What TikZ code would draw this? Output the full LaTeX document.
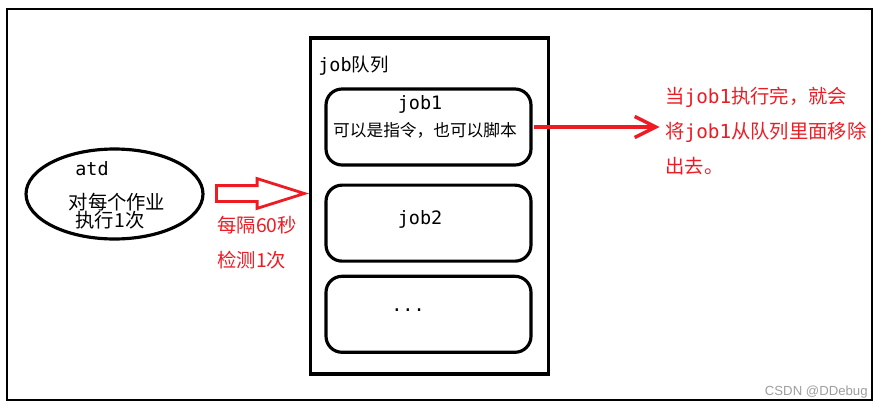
\documentclass[tikz,border=0pt]{standalone}
\usepackage{fontspec}
\setmainfont{Noto Sans CJK SC}
\newfontfamily\jbfont{DejaVu Sans Mono}
\newfontfamily\wmfont{Liberation Sans}
\usepackage{tikz}
\usetikzlibrary{shapes.geometric, shapes.arrows, arrows.meta, positioning}
\definecolor{paintred}{RGB}{237,28,36}
\newcommand{\jb}[1]{{\jbfont #1}}
\tikzstyle{outerframe} = [draw=black, line width=1.5pt]
\tikzstyle{queue} = [rectangle, draw=black, line width=1.8pt, minimum width=4.76cm, minimum height=6.72cm, inner sep=0pt]
\tikzstyle{jobbox} = [rectangle, rounded corners=0.32cm, draw=black, line width=1.8pt, minimum width=4.1cm, minimum height=1.52cm, inner sep=0pt]
\tikzstyle{daemon} = [ellipse, draw=black, line width=1.8pt, minimum width=3.54cm, minimum height=1.8cm, inner sep=0pt]
\tikzstyle{poll} = [single arrow, draw=paintred, line width=1.6pt, minimum height=1.76cm, inner sep=0.13cm, single arrow head extend=0.14cm, single arrow tip angle=35]
\tikzstyle{arrow} = [draw=paintred, line width=2pt, -{Straight Barb[length=12pt, width=12pt]}]
\tikzstyle{txt} = [inner sep=0pt, font=\fontsize{10.5pt}{12pt}\selectfont]
\tikzstyle{note} = [inner sep=0pt, align=left, text=paintred, font=\fontsize{11pt}{20pt}\selectfont]

\begin{document}
\begin{tikzpicture}[x=0.02cm, y=-0.02cm]
  \useasboundingbox (0,0) rectangle (881,409);
  \draw[outerframe] (7,9) rectangle (872,400);

  % atd
  \node[daemon] (atd) at (114.5,194) {};
  \node[txt] (atdname) at (92,169) {\jb{atd}};
  \node[txt, font=\fontsize{11pt}{12pt}\selectfont] (atdline1) at (117,202) {对每个作业};
  \node[txt, font=\fontsize{11pt}{12pt}\selectfont] (atdline2) at (110,220) {执行1次};

  % polling
  \node[poll, anchor=tail] (poll) at (215,193.5) {};
  \node[note, anchor=north west] (interval) at (217,216) {每隔60秒\\检测1次};

  % queue
  \node[queue] (queue) at (429.5,206) {};
  \node[txt, anchor=west] (qname) at (318,66) {\jb{job}队列};
  \node[jobbox] (job1) at (428.5,127) {};
  \node[jobbox, below=0.34cm of job1] (job2) {};
  \node[jobbox, below=0.24cm of job2] (jobn) {};
  \node[txt] (job1name) at (420,104) {\jb{job1}};
  \node[txt, font=\fontsize{9.5pt}{11pt}\selectfont] (job1desc) at (425,130) {可以是指令，也可以脚本};
  \node[txt] (job2name) at (420,219) {\jb{job2}};
  \node[txt] (jobnname) at (408,310) {\jb{...}};

  % removal
  \node[note, anchor=west] (remove) at (665,131) {当\jb{job1}执行完，就会\\将\jb{job1}从队列里面移除\\出去。};
  \draw[arrow] ([xshift=1pt]job1.east) -- ([xshift=-3pt]job1.east -| remove.west);

  \node[inner sep=0pt, anchor=east, text=black!38, font=\wmfont\fontsize{7.5pt}{9pt}\selectfont] (mark) at (868,392) {CSDN @DDebug};
\end{tikzpicture}
\end{document}
